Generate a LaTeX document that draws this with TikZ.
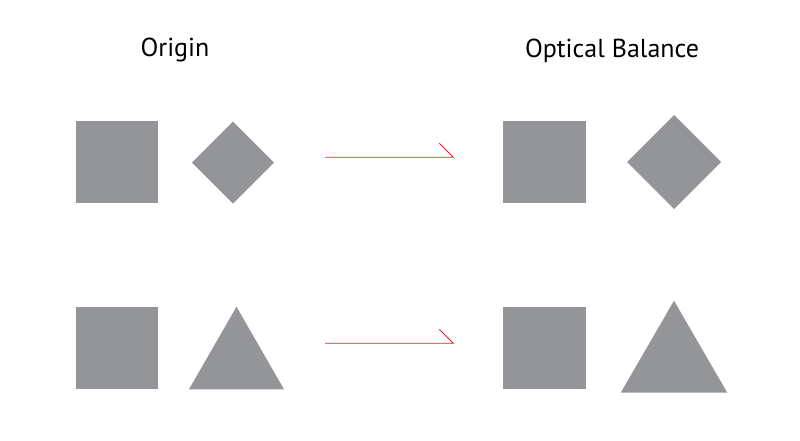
\documentclass[tikz,border=0pt]{standalone}
\usepackage{fontspec}
\setmainfont{PT Sans}
\usepackage{xcolor}
\definecolor{shapegray}{HTML}{939598}
\definecolor{arrowred}{HTML}{ED1C24}

\tikzset{
    shape fill/.style={fill=shapegray, draw=none},
    balance arrow/.style={arrowred, line width=0.8pt, line join=miter},
    heading/.style={anchor=base, inner sep=0pt, font=\fontsize{26}{31}\selectfont}
}

\begin{document}
\begin{tikzpicture}[x=1pt, y=-1pt]
            \useasboundingbox (0,0) rectangle (800,440);

            \node[heading] (origin) at (175,56.7) {Origin};
            \node[heading] (optical) at (612,57.3) {Optical Balance};

            % top row
            \fill[shape fill] (75.7,121) rectangle (158.3,203.3);
            \fill[shape fill] (192,162.5) -- (233,121.5) -- (274,162.5) -- (233,203.5) -- cycle;
            \fill[shape fill] (503.3,121) rectangle (585.7,203.3);
            \fill[shape fill] (627,162) -- (674,115) -- (721,162) -- (674,209) -- cycle;

            % bottom row
            \fill[shape fill] (75.7,306.7) rectangle (158.3,389.3);
            \fill[shape fill] (189,389.3) -- (236.5,306.7) -- (284,389.3) -- cycle;
            \fill[shape fill] (503.3,306.7) rectangle (585.7,389.3);
            \fill[shape fill] (620.7,392.7) -- (674,300.7) -- (727.3,392.7) -- cycle;

            % arrows with a single barb
            \coordinate (top from) at (325,157.3);
            \coordinate (top to) at (453.3,157.3);
            \coordinate (bottom from) at (325,343.3);
            \coordinate (bottom to) at (453.3,343.3);
            \draw[balance arrow] (top from) -- (top to) -- ++(-14,-14);
            \draw[balance arrow] (bottom from) -- (bottom to) -- ++(-14,-14);
        \end{tikzpicture}
\end{document}
